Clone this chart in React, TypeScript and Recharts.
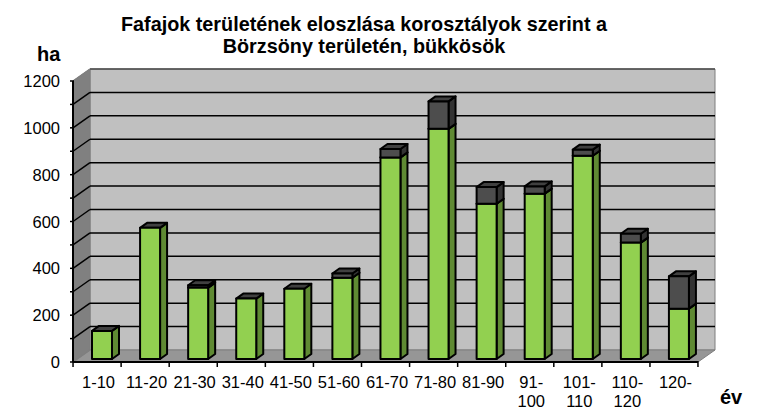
import React from 'react';
import { BarChart, Bar, XAxis, YAxis, CartesianGrid } from 'recharts';

const categories = ['1-10', '11-20', '21-30', '31-40', '41-50', '51-60', '61-70', '71-80', '81-90', '91-\n100', '101-\n110', '110-\n120', '120-'];
const bukk = [120, 560, 305, 258, 300, 347, 861, 983, 663, 706, 868, 497, 215];
const egyeb = [0, 0, 10, 0, 0, 18, 36, 117, 71, 31, 26, 38, 138];
const yTicks = [0, 100, 200, 300, 400, 500, 600, 700, 800, 900, 1000, 1100, 1200];

const data = categories.map((name, i) => ({ name, bukk: bukk[i], egyeb: egyeb[i] }));

const FONT = '"Liberation Sans", Arial, sans-serif';
const WALL_DX = 17;
const WALL_DY = -12;
const BAR_DX = 5;
const BAR_DY = -3;
const DEPTH_X = 7;
const DEPTH_Y = -5;
const STEP = 48;

const pts = (a: number[][]) => a.map((p) => p.join(',')).join(' ');

function Walls({ l, r, t, b }: any) {
  return (
    <g>
      <polygon points={pts([[l + WALL_DX, t + WALL_DY], [r + WALL_DX, t + WALL_DY], [r + WALL_DX, b + WALL_DY], [l + WALL_DX, b + WALL_DY]])} fill="#c0c0c0" stroke="#7f7f7f" />
      <polygon points={pts([[l, t], [l + WALL_DX, t + WALL_DY], [l + WALL_DX, b + WALL_DY], [l, b]])} fill="#808080" stroke="#7f7f7f" />
      <polygon points={pts([[l, b], [l + WALL_DX, b + WALL_DY], [r + WALL_DX, b + WALL_DY], [r, b]])} fill="#969696" stroke="#7f7f7f" />
      <line x1={l + WALL_DX} y1={t + WALL_DY} x2={r + WALL_DX} y2={t + WALL_DY} stroke="#4a4a4a" strokeWidth={1.5} />
    </g>
  );
}

function Texts() {
  return (
    <g fontFamily={FONT} fontWeight="bold" fill="#000">
      <text x={364} y={31} textAnchor="middle" fontSize={19.8}>Fafajok területének eloszlása korosztályok szerint a</text>
      <text x={364} y={53} textAnchor="middle" fontSize={19.8}>Börzsöny területén, bükkösök</text>
      <text x={37} y={61} fontSize={20}>ha</text>
      <text x={720} y={404} fontSize={20}>év</text>
    </g>
  );
}

// the grid is the lowest layer of the chart, so the walls go in with its first line
function gridLine(props: any) {
  const { x1, x2, y1, index, y, height } = props;
  const edge = y1 <= y + 1 || y1 >= y + height - 1;
  return (
    <g key={`grid-${y1}`}>
      {index === 0 && <Walls l={x1} r={x2} t={y} b={y + height} />}
      <line x1={x1} y1={y1} x2={x1 + WALL_DX} y2={y1 + WALL_DY} stroke={edge ? '#7f7f7f' : '#000'} strokeWidth={1.5} />
      {!edge && <line x1={x1 + WALL_DX} y1={y1 + WALL_DY} x2={x2 + WALL_DX} y2={y1 + WALL_DY} stroke="#000" strokeWidth={1.5} />}
    </g>
  );
}

function Block({ x, y, width, height, front, side }: any) {
  const fx = x + BAR_DX;
  const fy = y + BAR_DY;
  return (
    <g stroke="#000" strokeWidth={2} strokeLinejoin="round">
      <polygon points={pts([[fx + width, fy], [fx + width + DEPTH_X, fy + DEPTH_Y], [fx + width + DEPTH_X, fy + height + DEPTH_Y], [fx + width, fy + height]])} fill={side} />
      <polygon points={pts([[fx, fy], [fx + DEPTH_X, fy + DEPTH_Y], [fx + width + DEPTH_X, fy + DEPTH_Y], [fx + width, fy]])} fill="#404040" />
      <rect x={fx} y={fy} width={width} height={height} fill={front} />
    </g>
  );
}

function GreenShape(props: any) {
  return <Block {...props} front="#92d050" side="#5f8a33" />;
}

function DarkShape(props: any) {
  if (!props.height) return null;
  return <Block {...props} front="#4d4d4d" side="#333333" />;
}

function YTick({ x, y, payload }: any) {
  return (
    <g>
      <line x1={x - 3} y1={y} x2={x + 1} y2={y} stroke="#000" strokeWidth={1.5} />
      {payload.value % 200 === 0 && (
        <text x={x - 13} y={y + 6} textAnchor="end" fontFamily={FONT} fontSize={16.5} fill="#000">{payload.value}</text>
      )}
    </g>
  );
}

function XTick({ x, y, payload, index }: any) {
  const lines = String(payload.value).split('\n');
  return (
    <g>
      <line x1={x - STEP / 2} y1={y - 1} x2={x - STEP / 2} y2={y + 5} stroke="#000" strokeWidth={1.5} />
      {index === categories.length - 1 && <line x1={x + STEP / 2} y1={y - 1} x2={x + STEP / 2} y2={y + 5} stroke="#000" strokeWidth={1.5} />}
      {lines.map((t, i) => (
        <text key={t} x={x + 1.5} y={y + 26 + i * 19} textAnchor="middle" fontFamily={FONT} fontSize={16.5} fill="#000">{t}</text>
      ))}
    </g>
  );
}

export default function App() {
  return (
    <div style={{ position: 'absolute', left: 0, top: 0, width: 760, height: 420, background: '#fff' }}>
      <BarChart width={760} height={420} data={data} barSize={20} margin={{ top: 81, right: 62, left: 0, bottom: 0 }}>
        <CartesianGrid horizontal={gridLine} vertical={false} syncWithTicks />
        <XAxis dataKey="name" height={58} interval={0} tick={<XTick />} tickSize={0} tickMargin={0} tickLine={false} axisLine={{ stroke: '#000', strokeWidth: 2 }} />
        <YAxis width={73} domain={[0, 1200]} ticks={yTicks} interval={0} tick={<YTick />} tickSize={0} tickMargin={0} tickLine={false} axisLine={{ stroke: '#000', strokeWidth: 2 }} />
        <Bar dataKey="bukk" stackId="a" shape={<GreenShape />} isAnimationActive={false} />
        <Bar dataKey="egyeb" stackId="a" shape={<DarkShape />} isAnimationActive={false} />
        <Texts />
      </BarChart>
    </div>
  );
}
